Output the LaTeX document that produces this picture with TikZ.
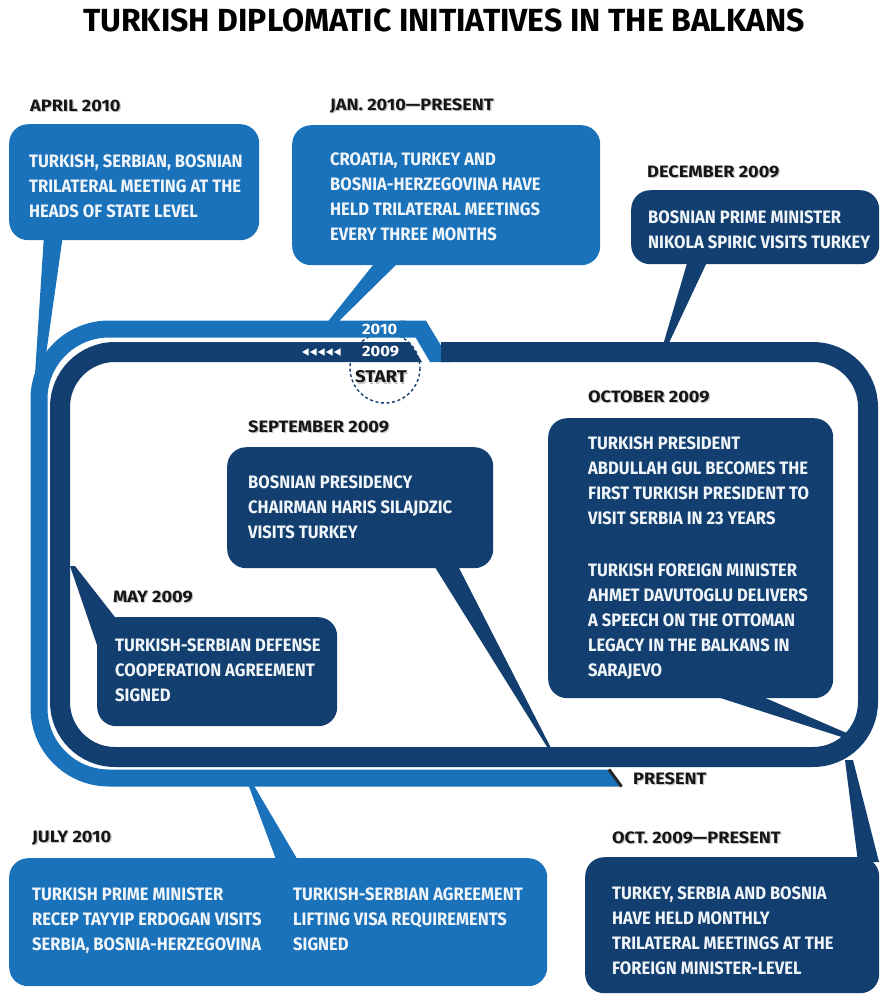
\documentclass[tikz,border=0pt]{standalone}
\usepackage{fontspec}
\setmainfont{Fira Sans}
\newfontfamily\condf{Fira Sans}[FakeStretch=0.92]
\newfontfamily\titlef{Fira Sans}[FakeStretch=1.0]
\newfontfamily\labf{Fira Sans}[FakeStretch=1.1]
\definecolor{lblue}{HTML}{1A72BB}
\definecolor{dblue}{HTML}{123F6F}
\definecolor{txtw}{HTML}{F0F5FA}
\definecolor{labk}{HTML}{161616}
\tikzset{
  lbox/.style={fill=lblue, rounded corners=19pt},
  dbox/.style={fill=dblue, rounded corners=19pt},
  bodytxt/.style={anchor=north west, inner sep=0pt, text=txtw, align=left,
    font=\condf\bfseries\fontsize{18}{25}\selectfont},
  datelab/.style={anchor=west, inner sep=0pt, text=labk,
    font=\labf\bfseries\fontsize{16.5}{18}\selectfont},
  shadowlab/.style={datelab, text=black!22},
  bandlab/.style={anchor=west, inner sep=0pt, text=white,
    font=\labf\bfseries\fontsize{15}{16}\selectfont},
}
\newcommand\dlab[4]{%
  \node[shadowlab] (#1s) at (#2+1.2,#3+1.2) {#4};
  \node[datelab] (#1) at (#2,#3) {#4};}
\begin{document}
\begin{tikzpicture}[x=1pt,y=-1pt]
\useasboundingbox (0,0) rectangle (881,994);
\fill[white] (0,0) rectangle (881,994);

% title
\node[font=\titlef\bfseries\fontsize{32}{34}\selectfont, text=black, inner sep=0pt] (title) at (444,20) {TURKISH DIPLOMATIC INITIATIVES IN THE BALKANS};

% dashed start circle
\draw[dblue, line width=1.4, dash pattern=on 3pt off 2.6pt] (385,368) circle (35);
\node[font=\labf\bfseries\fontsize{17}{18}\selectfont, text=black!22, inner sep=0pt] (starts) at (382.2,378.2) {START};
\node[font=\labf\bfseries\fontsize{17}{18}\selectfont, text=labk, inner sep=0pt] (start) at (381,377) {START};

% light band (2010)
\draw[lblue, line width=17] (405,329) [rounded corners=70pt] -- (39,329) -- (39,778) -- (609,778);
\fill[lblue] (400,320.5) -- (425.8,320.5) -- (451,362) -- (430,362) -- (415.6,337.5) -- (400,337.5) -- cycle;
\fill[lblue] (608.5,769.5) -- (608.5,786.5) -- (621.5,786.5) -- cycle;
\draw[black!85, line width=3] (609,769.5) -- (621.5,786.5);

% dark band (2009)
\draw[dblue, line width=20, rounded corners=55pt] (410,352) -- (60,352) -- (60,757) -- (868,757) -- (868,352) -- (441,352);
\fill[dblue] (409.5,342) -- (409.5,362) -- (422,362) -- cycle;

% band labels
\node[bandlab] (y2010) at (362,329) {2010};
\node[bandlab] (y2009) at (362,352) {2009};
\foreach \i in {0,...,4} {
  \fill[white] (302+\i*8,352) -- (308.5+\i*8,348.3) -- (308.5+\i*8,355.7) -- cycle;
}
\node[datelab, text=black!22] (presents) at (634.2,780.2) {PRESENT};
\node[datelab] (present) at (633,779) {PRESENT};

% ---------- APRIL 2010 ----------
\node[lbox, anchor=north west, minimum width=250, minimum height=116, inner sep=0pt] (aprbox) at (9,124) {};
\fill[lblue] (44,235) -- (63,235) -- (41,390) -- (34,390) -- cycle;
\dlab{aprlab}{30}{106}{APRIL 2010}
\node[bodytxt] (aprtxt) at (29,155) {TURKISH, SERBIAN, BOSNIAN\\TRILATERAL MEETING AT THE\\HEADS OF STATE LEVEL};

% ---------- JAN 2010 ----------
\node[lbox, anchor=north west, minimum width=308, minimum height=140, inner sep=0pt] (janbox) at (292,125) {};
\fill[lblue] (377,260) -- (401,260) -- (338,322) -- (326,324) -- cycle;
\dlab{janlab}{330}{106}{JAN. 2010—PRESENT}
\node[bodytxt] (jantxt) at (330,153) {CROATIA, TURKEY AND\\BOSNIA-HERZEGOVINA HAVE\\HELD TRILATERAL MEETINGS\\EVERY THREE MONTHS};

% ---------- DECEMBER 2009 ----------
\node[dbox, anchor=north west, minimum width=248, minimum height=74, inner sep=0pt] (decbox) at (631,190) {};
\fill[dblue] (688,260) -- (708,260) -- (668,345) -- (663,345) -- cycle;
\dlab{declab}{647}{172}{DECEMBER 2009}
\node[bodytxt] (dectxt) at (648,211) {BOSNIAN PRIME MINISTER\\NIKOLA SPIRIC VISITS TURKEY};

% ---------- SEPTEMBER 2009 ----------
\node[dbox, anchor=north west, minimum width=266, minimum height=121, inner sep=0pt] (sepbox) at (227,447) {};
\fill[dblue] (433,564) -- (457,564) -- (552,750) -- (549,750) -- cycle;
\dlab{seplab}{248}{427}{SEPTEMBER 2009}
\node[bodytxt] (septxt) at (248,476) {BOSNIAN PRESIDENCY\\CHAIRMAN HARIS SILAJDZIC\\VISITS TURKEY};

% ---------- OCTOBER 2009 ----------
\node[dbox, anchor=north west, minimum width=285, minimum height=280, inner sep=0pt] (octbox) at (548,418) {};
\fill[dblue] (708,694) -- (756,694) -- (856,737) -- (851,740) -- cycle;
\dlab{octlab}{588}{397}{OCTOBER 2009}
\node[bodytxt] (octtxt) at (588,437) {TURKISH PRESIDENT\\ABDULLAH GUL BECOMES THE\\FIRST TURKISH PRESIDENT TO\\VISIT SERBIA IN 23 YEARS\\[27pt]TURKISH FOREIGN MINISTER\\AHMET DAVUTOGLU DELIVERS\\A SPEECH ON THE OTTOMAN\\LEGACY IN THE BALKANS IN\\SARAJEVO};

% ---------- MAY 2009 ----------
\node[dbox, anchor=north west, minimum width=240, minimum height=109, inner sep=0pt] (maybox) at (97,617) {};
\fill[dblue] (70,566) -- (75,566) -- (118,621) -- (98,648) -- cycle;
\dlab{maylab}{113}{597}{MAY 2009}
\node[bodytxt] (maytxt) at (115,639) {TURKISH-SERBIAN DEFENSE\\COOPERATION AGREEMENT\\SIGNED};

% ---------- JULY 2010 ----------
\node[lbox, anchor=north west, minimum width=538, minimum height=128, inner sep=0pt] (julbox) at (9,858) {};
\fill[lblue] (248,784) -- (253,784) -- (299,862) -- (277,862) -- cycle;
\dlab{jullab}{32}{838}{JULY 2010}
\node[bodytxt] (jultxta) at (32,888) {TURKISH PRIME MINISTER\\RECEP TAYYIP ERDOGAN VISITS\\SERBIA, BOSNIA-HERZEGOVINA};
\node[bodytxt] (jultxtb) at (293,888) {TURKISH-SERBIAN AGREEMENT\\LIFTING VISA REQUIREMENTS\\SIGNED};

% ---------- OCT 2009 - PRESENT ----------
\node[dbox, anchor=north west, minimum width=294, minimum height=136, inner sep=0pt] (opbox) at (585,857) {};
\fill[dblue] (845,760) -- (853,760) -- (879,862) -- (858,862) -- cycle;
\dlab{oplab}{612}{838}{OCT. 2009—PRESENT}
\node[bodytxt] (optxt) at (612,887) {TURKEY, SERBIA AND BOSNIA\\HAVE HELD MONTHLY\\TRILATERAL MEETINGS AT THE\\FOREIGN MINISTER-LEVEL};
\end{tikzpicture}
\end{document}
